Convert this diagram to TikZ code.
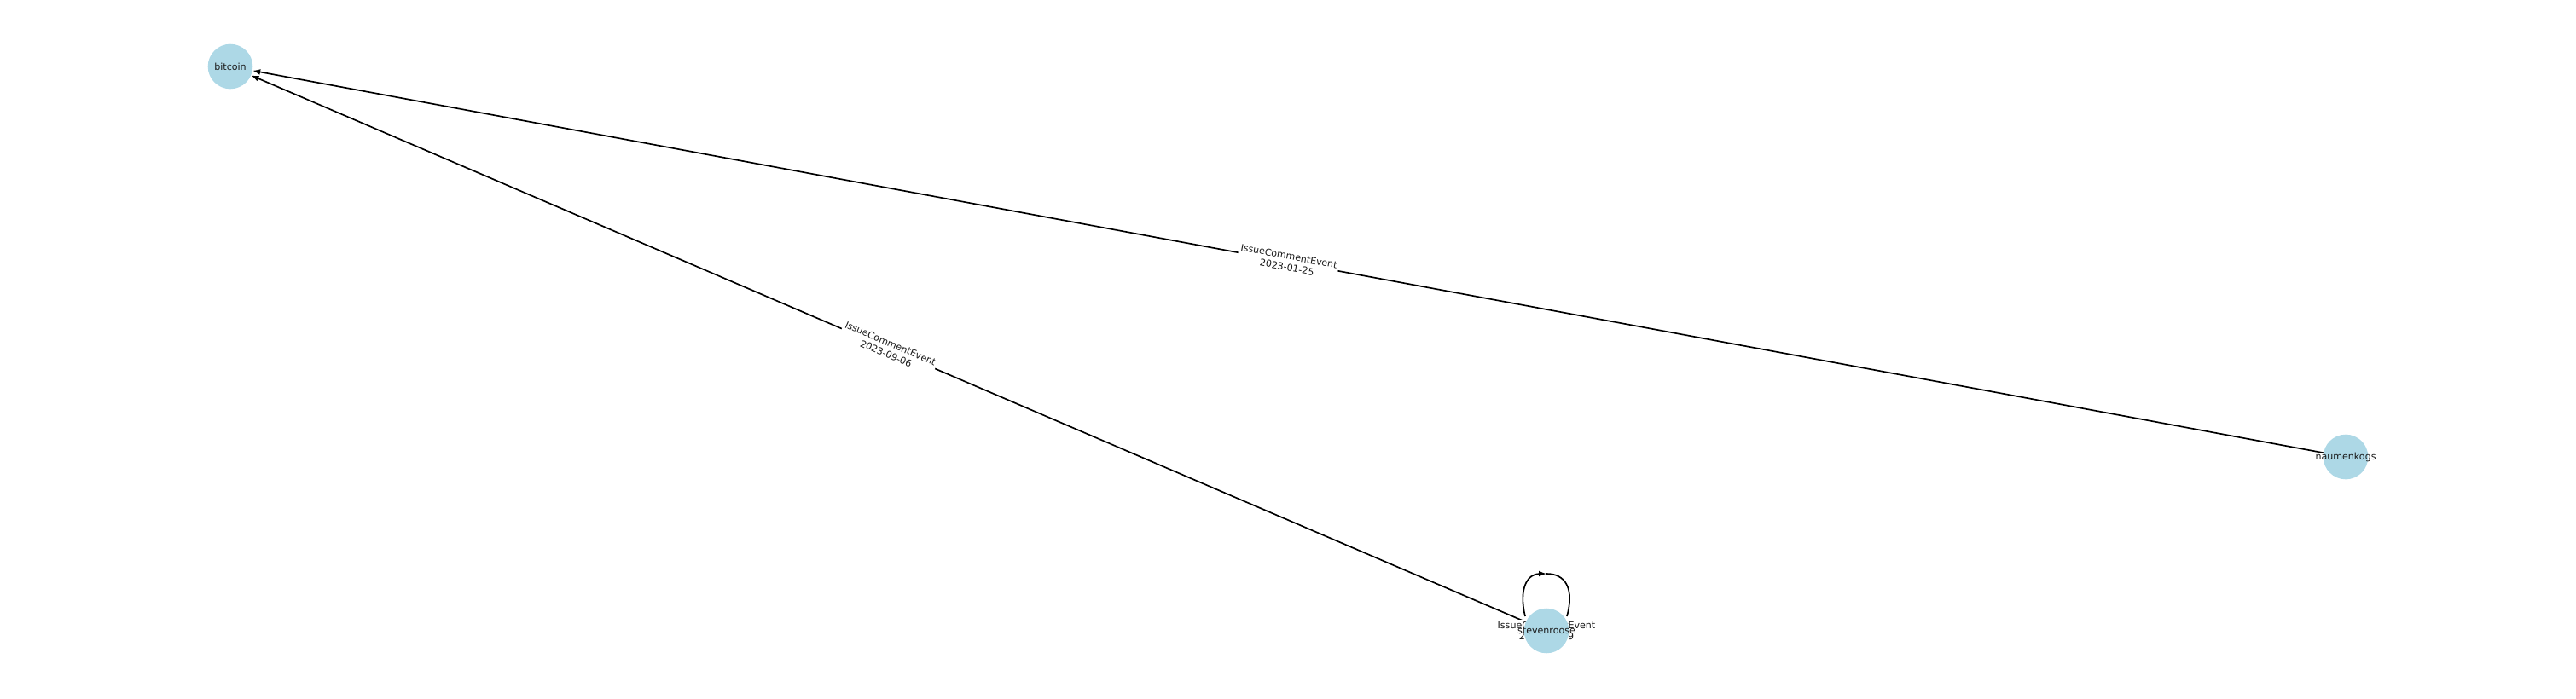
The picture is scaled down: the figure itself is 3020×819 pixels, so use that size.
\documentclass[tikz,border=0pt]{standalone}
\usepackage{fontspec}
\setmainfont{DejaVu Sans}
\usetikzlibrary{arrows.meta,calc}
\pgfdeclarelayer{background}
\pgfsetlayers{background,main}
\definecolor{nodeblue}{RGB}{173,216,230}
\tikzset{
  gnode/.style={circle,fill=nodeblue,minimum size=38,inner sep=0pt},
  ntext/.style={inner sep=0pt,font=\fontsize{8}{9.6}\selectfont,text=black!90},
  gedge/.style={line width=1.2pt,-{Latex[length=6.5pt,width=5pt]}},
  gline/.style={line width=1.2pt},
  elabel/.style={fill=white,rounded corners=2pt,inner sep=1.5pt,align=center,font=\fontsize{8}{9.6}\selectfont,text=black!90}
}
\begin{document}
\begin{tikzpicture}[x=0.01in,y=-0.01in]
\path[use as bounding box] (0,0) rectangle (3020,819);
\node[gnode,label={[ntext]center:bitcoin}] (bit) at (270,78) {};
\node[gnode,label={[ntext]center:naumenkogs}] (nau) at (2750,536) {};
\node[gnode,label={[ntext]center:stevenroose}] (sr) at (1813,740) {};
\begin{pgfonlayer}{background}
\draw[gedge] (nau) -- node[elabel,sloped,midway]{IssueCommentEvent\\2023-01-25} (bit);
\draw[gedge] (sr) -- node[elabel,sloped,midway]{IssueCommentEvent\\2023-09-06} (bit);
\coordinate (lpA) at ($(sr)+(-25,-17)$);
\coordinate (lpT) at ($(sr)+(0,-67)$);
\coordinate (lpB) at ($(sr)+(24,-17)$);
\draw[gedge] (lpA) .. controls ($(sr)+(-33,-50)$) and ($(sr)+(-22,-67)$) .. (lpT);
\draw[gline] (lpT) .. controls ($(sr)+(22,-67)$) and ($(sr)+(33,-50)$) .. (lpB);
\node[elabel] (srlab) at (sr) {IssueCommentEvent\\2023-09-19};
\end{pgfonlayer}
\end{tikzpicture}
\end{document}
